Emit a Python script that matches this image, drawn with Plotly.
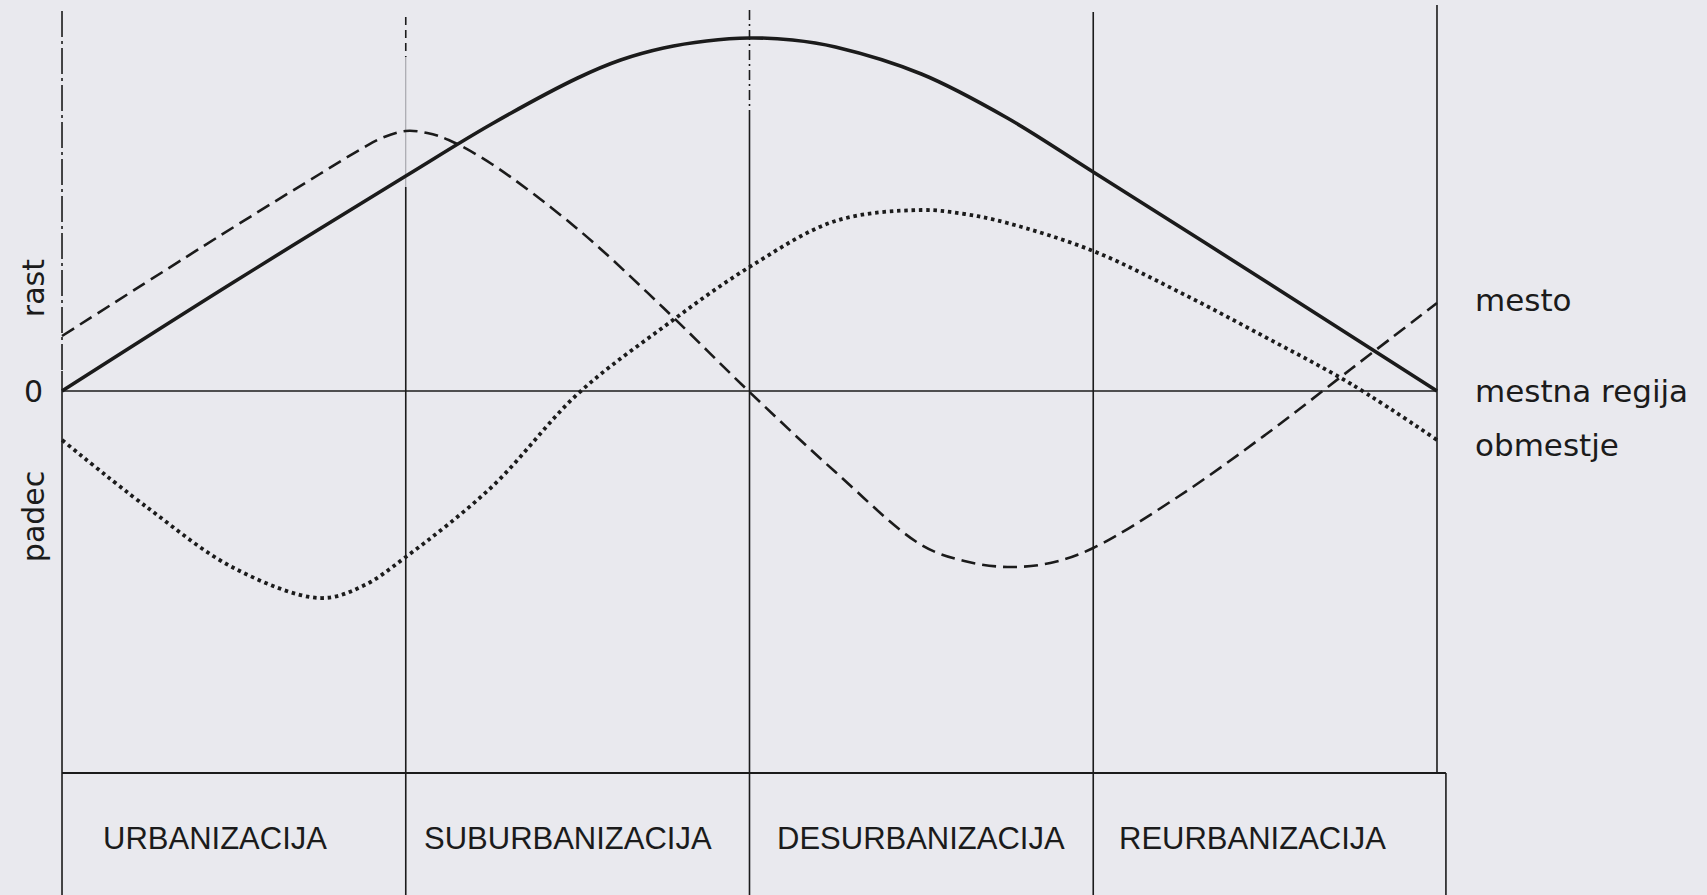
import plotly.graph_objects as go

# faze procesa urbanizacije (ena enota na x osi = ena faza)
faze = ["URBANIZACIJA", "SUBURBANIZACIJA", "DESURBANIZACIJA", "REURBANIZACIJA"]

# mestna regija - polna crta
regija_x = [0, 0.5, 1.0, 1.25, 1.5, 1.625, 1.75, 1.875, 2.0, 2.125, 2.25, 2.5, 2.75, 3.0, 3.5, 4.0]
regija_y = [0, 1.09, 2.15, 2.67, 3.13, 3.31, 3.43, 3.50, 3.53, 3.51, 3.44, 3.17, 2.73, 2.19, 1.10, 0]

# mesto - crtkano
mesto_x = [0, 0.5, 0.75, 0.875, 0.9375, 1.0, 1.0625, 1.125, 1.25, 1.5, 1.75, 2.0, 2.25, 2.5, 2.625, 2.75,
           2.875, 3.0, 3.25, 3.5, 3.75, 4.0]
mesto_y = [0.55, 1.64, 2.17, 2.43, 2.54, 2.60, 2.58, 2.51, 2.27, 1.62, 0.83, -0.01, -0.81, -1.54, -1.70,
           -1.76, -1.72, -1.57, -1.05, -0.44, 0.22, 0.88]

# obmestje - pikcasto
obmestje_x = [0, 0.25, 0.5, 0.75, 0.875, 1.0, 1.25, 1.5, 1.75, 2.0, 2.25, 2.5, 2.625, 2.75, 3.0, 3.25,
              3.5, 3.75, 4.0]
obmestje_y = [-0.49, -1.17, -1.77, -2.07, -1.95, -1.66, -0.96, -0.03, 0.64, 1.24, 1.70, 1.81, 1.77, 1.68,
              1.40, 0.99, 0.54, 0.07, -0.49]

# sredisca napisov faz v spodnji tabeli
faze_xc = [0.444, 1.473, 2.499, 3.462]

paper = "#e9e9ee"
ink = "#1b1b1b"
font_lc = "DejaVu Sans"
font_uc = "Liberation Sans"

fig = go.Figure()

fig.add_trace(go.Scatter(x=mesto_x, y=mesto_y, mode="lines", name="mesto",
                         line=dict(color=ink, width=2.6, dash="14px,7px", shape="spline", smoothing=1)))
fig.add_trace(go.Scatter(x=obmestje_x, y=obmestje_y, mode="lines", name="obmestje",
                         line=dict(color=ink, width=3.8, dash="3.5px,3.8px", shape="spline", smoothing=1)))
fig.add_trace(go.Scatter(x=regija_x, y=regija_y, mode="lines", name="mestna regija",
                         line=dict(color=ink, width=3.6, shape="spline", smoothing=1)))

y_top = 3.8
y_tab = -3.82
y_bot = -5.3

shapes = []
def seg(x0, y0, x1, y1, w=1.6, dash="solid", color=ink):
    shapes.append(dict(type="line", xref="x", yref="y", x0=x0, y0=y0, x1=x1, y1=y1,
                       line=dict(color=color, width=w, dash=dash), layer="below"))

# navpicne meje faz
seg(0, y_top, 0, 0.2, dash="26px,4px,3px,4px")
seg(0, 0.2, 0, y_bot)
seg(1, 3.74, 1, 3.34, dash="8px,5px")
seg(1, 3.34, 1, 2.04, w=1, color="#9a9aa0")
seg(1, 2.04, 1, y_bot)
seg(2, 3.81, 2, 2.81, dash="10px,4px,2px,4px")
seg(2, 2.81, 2, y_bot)
seg(3, 3.79, 3, y_bot)
seg(4, 3.86, 4, y_tab)
seg(4.026, y_tab, 4.026, y_bot)
# nicelna crta in tabela
seg(0, 0, 4, 0, w=1.6)
seg(0, y_tab, 4.026, y_tab, w=2)

annotations = []
for xc, f in zip(faze_xc, faze):
    annotations.append(dict(x=xc, y=-4.47, text=f, showarrow=False, xanchor="center", yanchor="middle",
                            font=dict(family=font_uc, size=31, color=ink)))

right_labels = [("mesto", mesto_y[-1] + 0.03), ("mestna regija", regija_y[-1]), ("obmestje", obmestje_y[-1] - 0.05)]
for txt, yy in right_labels:
    annotations.append(dict(x=4.105, y=yy, text=txt, showarrow=False, xanchor="left", yanchor="middle",
                            font=dict(family=font_lc, size=31, color=ink)))

annotations.append(dict(x=-0.084, y=0, text="0", showarrow=False, xanchor="center", yanchor="middle",
                        font=dict(family=font_lc, size=30, color=ink)))
annotations.append(dict(x=-0.084, y=1.03, text="rast", showarrow=False, textangle=-90,
                        xanchor="center", yanchor="middle", font=dict(family=font_lc, size=30, color=ink)))
annotations.append(dict(x=-0.084, y=-1.26, text="padec", showarrow=False, textangle=-90,
                        xanchor="center", yanchor="middle", font=dict(family=font_lc, size=30, color=ink)))

fig.update_layout(
    width=1707, height=895, autosize=False,
    margin=dict(l=0, r=0, t=0, b=0),
    paper_bgcolor=paper, plot_bgcolor=paper,
    showlegend=False, hovermode=False,
    shapes=shapes, annotations=annotations,
    xaxis=dict(range=[-0.1804, 4.7855], visible=False, fixedrange=True),
    yaxis=dict(range=[-5.04, 3.91], visible=False, fixedrange=True),
)

# brez belega roba strani okoli grafa in brez orodne vrstice
fig.write_html("out.html", config={"displayModeBar": False},
               post_script="document.body.style.margin='0';document.body.style.background='%s';" % paper)
